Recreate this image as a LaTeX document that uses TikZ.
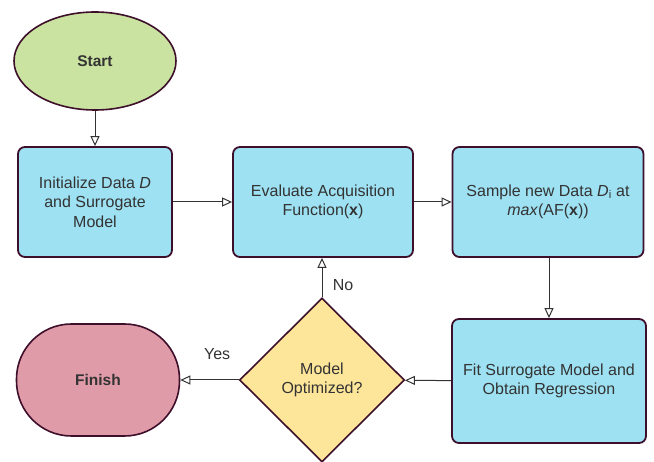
\documentclass[tikz,border=0pt]{standalone}
\usepackage{fontspec}
\setmainfont{Liberation Sans}
\usepackage{xcolor}
\usetikzlibrary{shapes.geometric,arrows.meta}
\definecolor{edgeC}{HTML}{3D0F2A}
\definecolor{boxC}{HTML}{9DE1F2}
\definecolor{startC}{HTML}{CAE3A1}
\definecolor{finishC}{HTML}{E09BA9}
\definecolor{decC}{HTML}{FDE59A}
\definecolor{txtC}{HTML}{333333}

\begin{document}
\begin{tikzpicture}
    [x=1pt, y=1pt,
 block/.style ={rectangle, draw=edgeC, line width=1.8pt, fill=boxC, rounded corners=7pt, align=center, inner sep=0pt, text=txtC, font=\fontsize{16}{19.5}\selectfont},
 decision/.style ={diamond, draw=edgeC, line width=1.6pt, fill=decC, align=center, inner sep=0pt, minimum width=165pt, minimum height=164pt, text=txtC, font=\fontsize{16}{19.5}\selectfont},
 terminal/.style ={draw=edgeC, line width=1.6pt, inner sep=0pt, text=txtC, font=\bfseries\fontsize{15.5}{19}\selectfont},
 line/.style ={draw=txtC, line width=1pt, -{Triangle[open,length=10pt,width=9pt]}},
 lbl/.style ={text=txtC, font=\fontsize{16}{19}\selectfont}]
    \useasboundingbox (0,0) rectangle (654,-462);
        \node[terminal, ellipse, fill=startC, minimum width=162pt, minimum height=98pt] (start) at (95,-61) {Start};
        \node[block, minimum width=154pt, minimum height=110pt] (init) at (95,-202) {Initialize Data \textit{D}\\and Surrogate\\Model};
        \node[block, minimum width=180pt, minimum height=110pt] (eval) at (323,-202) {Evaluate Acquisition\\Function(\textbf{x})};
        \node[block, minimum width=191pt, minimum height=110pt] (sample) at (548,-202) {Sample new Data \textit{D}\textsubscript{i} at\\\textit{max}(AF(\textbf{x}))};
        \node[block, minimum width=194pt, minimum height=124pt] (fit) at (549,-381) {Fit Surrogate Model and\\Obtain Regression};
        \node[decision] (opt) at (322,-380) {Model\\Optimized?};
        \node[terminal, rectangle, rounded corners=55pt, fill=finishC, minimum width=163pt, minimum height=112pt] (finish) at (98,-380) {Finish};
        \draw[line] (start) -- (init);
        \draw[line] (init) -- (eval);
        \draw[line] (eval) -- (sample);
        \draw[line] (sample.south -| fit.north) -- (fit);
        \draw[line] (fit) -- (opt);
        \draw[line] (opt) -- node[lbl, right=7pt, pos=0.32] (no) {No} (eval.south -| opt.north);
        \draw[line] (opt) -- node[lbl, above=17pt, pos=0.37] (yes) {Yes} (finish);
    \end{tikzpicture}
\end{document}
